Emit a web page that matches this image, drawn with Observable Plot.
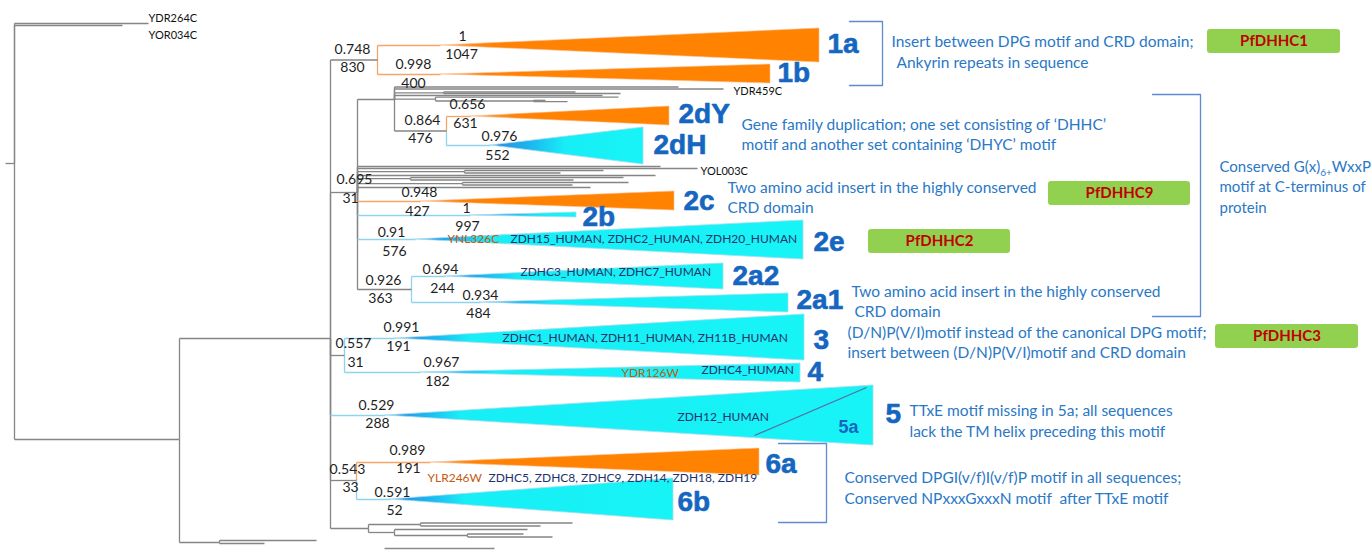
<!DOCTYPE html>
<html><head><meta charset="utf-8">
<script src="https://cdn.jsdelivr.net/npm/d3@7"></script>
<script src="https://cdn.jsdelivr.net/npm/@observablehq/plot@0.6"></script>
<style>body{margin:0;background:#fff}</style>
</head><body><div id="chart"></div>
<script>
// ---- tree: [id, parent, depth, row, colour-code] ----
const treeNodes = [
 ["root0",null,5,163,"g"],["R","root0",14,163,"g"],
 ["YDR264C","R",148,23,"g"],["YOR034C","R",122,25,"g"],
 ["N179","R",179,439,"g"],
 ["B1","N179",219,542,"g"],["b1a","B1",316,540,"g"],["b1b","B1",264,543,"g"],
 ["N330","N179",330,338,"g"],
 ["C1","N330",377,59.5,"g"],["1a","C1",440,45,"o"],["1b","C1",440,74,"o"],
 ["C2","N330",357,192,"g"],
 ["G","C2",394,99,"g"],
 ["g1","G",678,86.5,"g"],["YDR459C","G",723,88.5,"g"],
 ["g3","G",443,92.3,"g"],["g3a","g3",575,91.5,"g"],["g3b","g3",620,93,"g"],
 ["g4","G",602,95,"g"],
 ["g5","G",435,98.6,"g"],["g5a","g5",618,96.7,"g"],["g5b","g5",533,100.5,"g"],
 ["g5b1","g5b",545,99.8,"g"],["g5b2","g5b",567,101.2,"g"],
 ["D","G",446,130.5,"g"],["2dY","D",470,116,"o"],["2dH","D",490,145,"b"],
 ["h1","C2",660,166,"g"],["YOL003C","C2",697,168,"g"],
 ["h3","C2",464,171.2,"g"],["h3a","h3",603,170,"g"],["h3b","h3",560,172.5,"g"],
 ["h4","C2",655,175,"g"],
 ["h5","C2",410,178.2,"g"],["h5a","h5",623,177,"g"],["h5b","h5",573,179.5,"g"],
 ["h6","C2",462,183.2,"g"],["h6a","h6",628,182,"g"],["h6b","h6",572,184.5,"g"],
 ["h7","C2",590,187,"g"],
 ["2c","C2",420,201,"o"],["2b","C2",470,215,"b"],["2e","C2",415,239,"b"],
 ["A2","C2",411,289,"g"],["2a2","A2",445,276,"b"],["2a1","A2",480,302,"b"],
 ["N34","N330",344,355,"g"],["3","N34",395,338,"b"],["4","N34",420,372,"b"],
 ["5","N330",385,415,"b"],
 ["N6","N330",356,480,"g"],["6a","N6",430,462,"o"],["6b","N6",390,499,"b"],
 ["Nb","N330",368,528,"g"],
 ["nb1","Nb",420,524,"g"],["nb1a","nb1",572,522.5,"g"],["nb1b","nb1",540,525.5,"g"],
 ["nb2","Nb",394,532,"g"],["nb2a","nb2",527,529,"g"],["nb2b","nb2",467,535,"g"],
 ["nb2b1","nb2b",523,533.5,"g"],["nb2b2","nb2b",552,536.5,"g"]
];

// ---- collapsed clades ----
const cladeNames   = ["1a","1b","2dY","2dH","2c","2b","2e","2a2","2a1","3","4","5","6a","6b"];
const cladeTip     = [819,770,669,643,674,576,803,723,788,804,800,873,759,673];
const cladeTop     = [28,64,106,127,191,212,220,263,293,314,363,385,448,478];
const cladeBottom  = [62,83,125,164,210,217,259,289,312,360,382,445,475,520];

// ---- support values [text, depth, row] ----
const supportLabels = [
 ["0.748",352,49],["830",352,67],["1",462,36],["1047",461,54],
 ["0.998",413,64],["400",413,83],["0.656",467,104],["631",465,123],
 ["0.864",422,120],["476",420,138],["0.976",499,136],["552",497,155],
 ["0.695",354,179],["31",350,198],["0.948",419,192],["427",417,211],
 ["1",466,208],["997",467,226],["0.91",391,232],["576",394,251],
 ["0.694",440,269],["244",442,288],["0.926",383,280],["363",380,298],
 ["0.934",480,295],["484",478,313],["0.991",401,327],["191",398,346],
 ["0.557",353,343],["31",355,362],["0.967",441,362],["182",437,381],
 ["0.529",376,405],["288",377,423],["0.989",407,450],["191",408,468],
 ["0.543",347,469],["33",350,487],["0.591",392,492],["52",394,510]
];
const tipLabels = [["YDR264C",148,18],["YOR034C",148,35],["YDR459C",733,91],["YOL003C",700,171]];
const yeastLabels = [["YNL326C",447,239],["YDR126W",621,373],["YLR246W",427,478]];
const humanLabels = [
 ["ZDH15_HUMAN, ZDHC2_HUMAN, ZDH20_HUMAN",510,239],
 ["ZDHC3_HUMAN, ZDHC7_HUMAN",520,272],
 ["ZDHC1_HUMAN, ZDH11_HUMAN, ZH11B_HUMAN",502,338],
 ["ZDHC4_HUMAN",701,370],
 ["ZDH12_HUMAN",677,417],
 ["ZDHC5, ZDHC8, ZDHC9, ZDH14, ZDH18, ZDH19",488,478]
];
const cladeLabels = [
 ["1a",827,44],["1b",777,73],["2dY",678,114],["2dH",653,145],["2c",683,201],
 ["2b",582,217],["2e",813,242],["2a2",732,276],["2a1",796,300],["3",813,340],
 ["4",807,372],["5",885,414],["6a",765,464],["6b",677,502]
];
const subCladeLabels = [["5a",838,427]];
const annotations = [
 ["Insert between DPG motif and CRD domain;",891,42],
 ["Ankyrin repeats in sequence",896,63],
 ["Gene family duplication; one set consisting of \u2018DHHC\u2019",741,125],
 ["motif and another set containing \u2018DHYC\u2019 motif",741,145],
 ["Two amino acid insert in the highly conserved",727,188],
 ["CRD domain",727,208],
 ["Two amino acid insert in the highly conserved",851,292],
 ["CRD domain",854,312],
 ["(D/N)P(V/I)motif instead of the canonical DPG motif;",847,333],
 ["insert between (D/N)P(V/I)motif and CRD domain",847,353],
 ["TTxE motif missing in 5a; all sequences",909,411],
 ["lack the TM helix preceding this motif",909,432],
 ["Conserved DPGI(v/f)I(v/f)P motif in all sequences;",844,478],
 ["Conserved NPxxxGxxxN motif  after TTxE motif",844,499]
];
// right-hand note; "G(x)" is followed by the subscript "6+"
const sideNote = [["Conserved G(x)|6+|WxxP",1219,167],["motif at C-terminus of",1219,187],["protein",1219,208]];
const proteinNames = ["PfDHHC1","PfDHHC9","PfDHHC2","PfDHHC3"];
const proteinBoxX1 = [1207,1048,868,1215];
const proteinBoxX2 = [1340,1190,1010,1358];
const proteinBoxY1 = [29,181,229,324];
const proteinBoxY2 = [53,205,253,348];
const brackets = [
 [[849,21],[882,21],[882,85],[849,85]],
 [[1152,94],[1200,94],[1200,316],[1152,316]],
 [[778,443],[826,443],[826,522],[778,522]]
];
const split5a = [[754,435],[866,387]];
const scaleBar = [[384,548],[494,548]];

// ---- derived ----
const byId = new Map(treeNodes.map(d => [d[0], {id:d[0], parent:d[1], depth:d[2], row:d[3], c:d[4]}]));
const nodes = [...byId.values()];
const colorOf = {g:"#858585", o:"#f7a467", b:"#8ed3ef"};
const kids = d3.group(nodes.filter(n => n.parent), n => n.parent);
const horiz = nodes.filter(n => n.parent).map(n => {
  const p = byId.get(n.parent);
  return {x1:p.depth, x2:n.depth, y:n.row, color:colorOf[n.c]};
});
const vert = nodes.filter(n => n.parent).map(n => {
  const p = byId.get(n.parent);
  const colored = kids.get(n.parent).every(s => s.c !== "g");
  return {x:p.depth, y1:p.row, y2:n.row, color: colored ? colorOf[n.c] : colorOf.g};
});
const clades = cladeNames.map((name, i) => {
  const a = byId.get(name);
  return {name, i, c:a.c, apex:a.depth, tip:cladeTip[i],
    pts:[{x:a.depth, y1:a.row, y2:a.row}, {x:cladeTip[i], y1:cladeTop[i], y2:cladeBottom[i]}]};
});
const boxes = proteinNames.map((name,i) => ({name, x1:proteinBoxX1[i], x2:proteinBoxX2[i], y1:proteinBoxY1[i], y2:proteinBoxY2[i]}));
const bracketPts = brackets.flatMap((b,k) => b.map(p => ({k, x:p[0], y:p[1]})));
const obj = arr => arr.map(d => ({t:d[0], x:d[1], y:d[2]}));

const svg = Plot.plot({
  width: 1371, height: 555, margin: 0,
  x: {domain:[0,1371], range:[0,1371], axis:null},
  y: {domain:[0,555], range:[0,555], axis:null},
  style: {fontFamily:"Lato, sans-serif", background:"#fff"},
  marks: [
    Plot.link(vert, {x1:"x", x2:"x", y1:"y1", y2:"y2", stroke:"color", strokeWidth:1.3}),
    Plot.link(horiz, {x1:"x1", x2:"x2", y1:"y", y2:"y", stroke:"color", strokeWidth:1.3}),
    ...clades.map(cl => Plot.areaY(cl.pts, {x:"x", y1:"y1", y2:"y2", fill:`url(#grad${cl.i})`,
        stroke: cl.c === "o" ? "#fbc08f" : "#a6ddf0", strokeWidth: cl.c === "o" ? 0.6 : 0.8})),
    Plot.link([split5a], {x1:d=>d[0][0], y1:d=>d[0][1], x2:d=>d[1][0], y2:d=>d[1][1], stroke:"#5a6aa0", strokeWidth:1.2}),
    Plot.link([scaleBar], {x1:d=>d[0][0], y1:d=>d[0][1], x2:d=>d[1][0], y2:d=>d[1][1], stroke:"#8a8a8a", strokeWidth:1.5}),
    Plot.line(bracketPts, {x:"x", y:"y", z:"k", stroke:"#5b8bd0", strokeWidth:1.3, curve:"linear"}),
    Plot.rect(boxes, {x1:"x1", x2:"x2", y1:"y1", y2:"y2", fill:"#92d050", rx:3}),
    Plot.text(boxes, {x:d => (d.x1+d.x2)/2, y:d => (d.y1+d.y2)/2, text:"name", fill:"#c00000", fontWeight:"bold", fontSize:15}),
    Plot.text(obj(supportLabels), {x:"x", y:"y", text:"t", fill:"#1e1e1e", fontSize:14}),
    Plot.text(obj(tipLabels), {x:"x", y:"y", text:"t", fill:"#111", fontSize:11, textAnchor:"start"}),
    Plot.text(obj(yeastLabels), {x:"x", y:"y", text:"t", fill:"#c55a11", fontSize:12, textAnchor:"start"}),
    Plot.text(obj(humanLabels), {x:"x", y:"y", text:"t", fill:"#22336b", fontSize:12, textAnchor:"start"}),
    Plot.text(obj(cladeLabels), {x:"x", y:"y", text:"t", fill:"#1566c0", fontSize:28, fontWeight:"bold", fontFamily:"Liberation Sans, Arial, sans-serif", textAnchor:"start", stroke:"#1566c0", strokeWidth:0.6}),
    Plot.text(obj(subCladeLabels), {x:"x", y:"y", text:"t", fill:"#1566c0", fontSize:18, fontWeight:"bold", fontFamily:"Liberation Sans, Arial, sans-serif", textAnchor:"start"}),
    Plot.text(obj(annotations), {x:"x", y:"y", text:"t", fill:"#2a78c6", fontSize:15.5, textAnchor:"start"}),
    Plot.text(obj(sideNote), {x:"x", y:"y", text:"t", fill:"#2a78c6", fontSize:15, textAnchor:"start", className:"sidenote"})
  ]
});

// subscript in the side note
d3.select(svg).selectAll(".sidenote text").each(function() {
  const s = this.textContent;
  if (!s.includes("|")) return;
  const [a, sub, b] = s.split("|");
  const t = d3.select(this);
  t.text(null);
  t.append("tspan").text(a);
  t.append("tspan").attr("font-size", 10).attr("dy", 4).text(sub);
  t.append("tspan").attr("dy", -4).text(b);
});

// gradients: colour shift over a fixed distance from each clade apex
const defs = d3.select(svg).insert("defs", ":first-child");
const cyanStops = [[0,"#9ad6f2"],[8,"#2a8fe6"],[40,"#1cb6ef"],[75,"#17eef6"],[100000,"#17f4f6"]];
const orangeStops = [[0,"#fbc49a"],[15,"#fb9a45"],[45,"#ff8204"],[100000,"#ff8200"]];
clades.forEach(cl => {
  const g = defs.append("linearGradient").attr("id", `grad${cl.i}`)
    .attr("gradientUnits","userSpaceOnUse")
    .attr("x1", cl.apex).attr("x2", cl.tip).attr("y1",0).attr("y2",0);
  const span = cl.tip - cl.apex;
  (cl.c === "o" ? orangeStops : cyanStops).forEach(([d,c]) =>
    g.append("stop").attr("offset", Math.min(1, d / span)).attr("stop-color", c));
});

document.getElementById("chart").appendChild(svg);
</script>
</body></html>
